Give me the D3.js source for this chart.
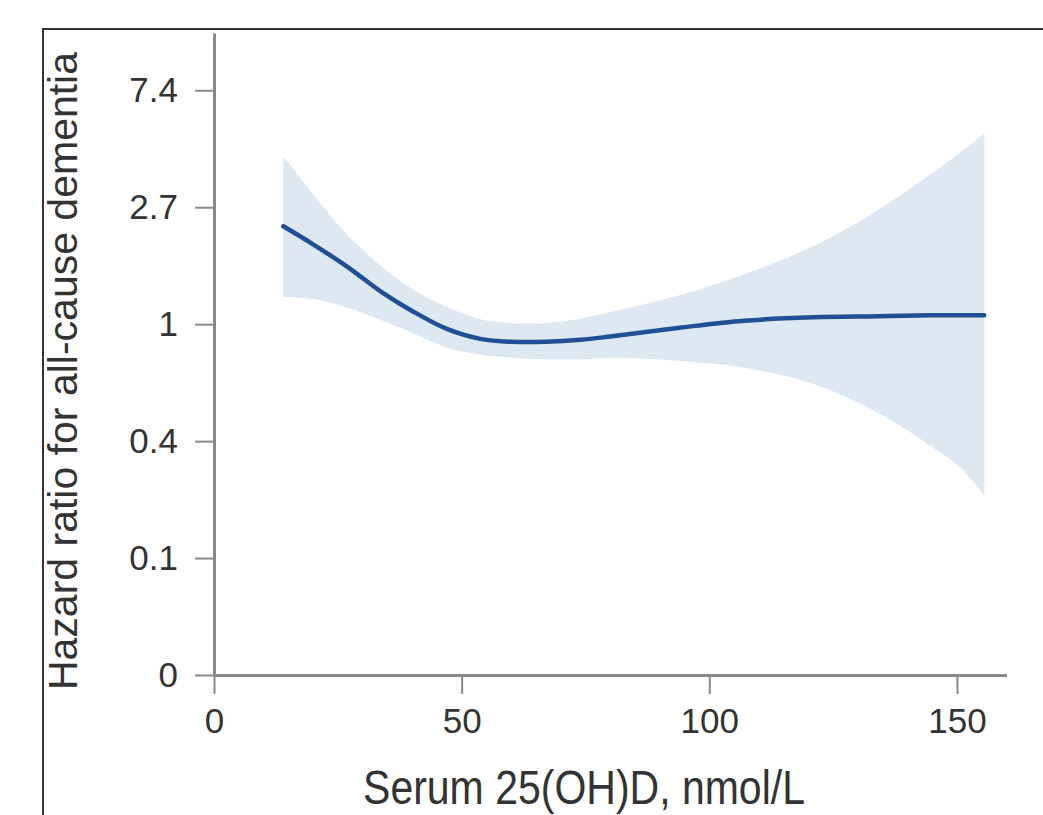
<!DOCTYPE html>
<html>
<head>
<meta charset="utf-8">
<script src="https://cdn.jsdelivr.net/npm/d3@7"></script>
<style>
	body { margin: 0; background: #fff; }
	svg { display: block; }
</style>
</head>
<body>
<script>
// values (x = serum 25(OH)D nmol/L, y = hazard ratio)
var serum   = [14, 20, 27, 34, 40, 47, 54, 60, 67, 74, 80, 94, 107, 121, 134, 145, 151, 155.5];
var hr      = [2.31, 1.98, 1.63, 1.31, 1.12, 0.96, 0.88, 0.86, 0.86, 0.875, 0.9, 0.97, 1.03, 1.06, 1.07, 1.08, 1.08, 1.08];
var hrUpper = [4.20, 3.04, 2.14, 1.63, 1.35, 1.16, 1.04, 1.01, 1.01, 1.05, 1.11, 1.28, 1.53, 1.95, 2.65, 3.64, 4.39, 5.12];
var hrLower = [1.26, 1.24, 1.15, 1.03, 0.93, 0.82, 0.77, 0.75, 0.74, 0.74, 0.75, 0.73, 0.69, 0.60, 0.47, 0.35, 0.29, 0.23];

var xTicks = [0, 50, 100, 150];
var yTickLogs = [-3, -2, -1, 0, 1, 2];
var yTickLabels = ["0", "0.1", "0.4", "1", "2.7", "7.4"];

var w = 1043, h = 815;
var font = "'Liberation Sans', Arial, sans-serif";

var svg = d3.select("body")
		.append("svg")
		.attr("width", w)
		.attr("height", h);

// frame (cut off on right and bottom)
svg.append("rect")
	.attr("x", 43)
	.attr("y", 29)
	.attr("width", w)
	.attr("height", h)
	.attr("fill", "none")
	.attr("stroke", "#333")
	.attr("stroke-width", 2);

var x = d3.scaleLinear()
		.domain([0, 160])
		.range([214, 1006.5]);

var y = d3.scaleLog()
		.base(Math.E)
		.domain([Math.exp(-3), Math.exp(2.49)])
		.range([675, 33]);

var data = serum.map(function(s, i) {
	return { x: s, m: hr[i], lo: hrLower[i], hi: hrUpper[i] };
});

// confidence band
var band = d3.area()
		.x(function(d) { return x(d.x); })
		.y0(function(d) { return y(d.lo); })
		.y1(function(d) { return y(d.hi); })
		.curve(d3.curveCatmullRom);

svg.append("path")
	.datum(data)
	.attr("d", band)
	.attr("fill", "#dde8f3");

var line = d3.line()
		.x(function(d) { return x(d.x); })
		.y(function(d) { return y(d.m); })
		.curve(d3.curveCatmullRom);

svg.append("path")
	.datum(data)
	.attr("d", line)
	.attr("fill", "none")
	.attr("stroke", "#1f4f95")
	.attr("stroke-width", 4.5)
	.attr("stroke-linecap", "round");

// axes
var xAxis = svg.append("g")
		.attr("transform", "translate(0," + y(Math.exp(-3)) + ")")
		.call(d3.axisBottom(x)
			.tickValues(xTicks)
			.tickSize(19)
			.tickSizeOuter(0)
			.tickPadding(14));

var yAxis = svg.append("g")
		.attr("transform", "translate(" + x(0) + ",0)")
		.call(d3.axisLeft(y)
			.tickValues(yTickLogs.map(Math.exp))
			.tickFormat(function(d, i) { return yTickLabels[i]; })
			.tickSize(19)
			.tickSizeOuter(0)
			.tickPadding(17));

[xAxis, yAxis].forEach(function(g) {
	g.select(".domain")
		.attr("stroke", "#8a8a8a")
		.attr("stroke-width", 3);
	g.selectAll(".tick line")
		.attr("stroke", "#8a8a8a")
		.attr("stroke-width", 2);
	g.selectAll(".tick text")
		.attr("fill", "#333")
		.attr("font-family", font)
		.attr("font-size", 35);
});

// axis titles
svg.append("text")
	.attr("transform", "translate(584,804) scale(1,1.15)")
	.attr("text-anchor", "middle")
	.attr("font-family", font)
	.attr("font-size", 41)
	.attr("fill", "#333")
	.text("Serum 25(OH)D, nmol/L");

svg.append("text")
	.attr("transform", "translate(77,371) rotate(-90)")
	.attr("text-anchor", "middle")
	.attr("font-family", font)
	.attr("font-size", 41)
	.attr("fill", "#333")
	.text("Hazard ratio for all-cause dementia");
</script>
</body>
</html>
